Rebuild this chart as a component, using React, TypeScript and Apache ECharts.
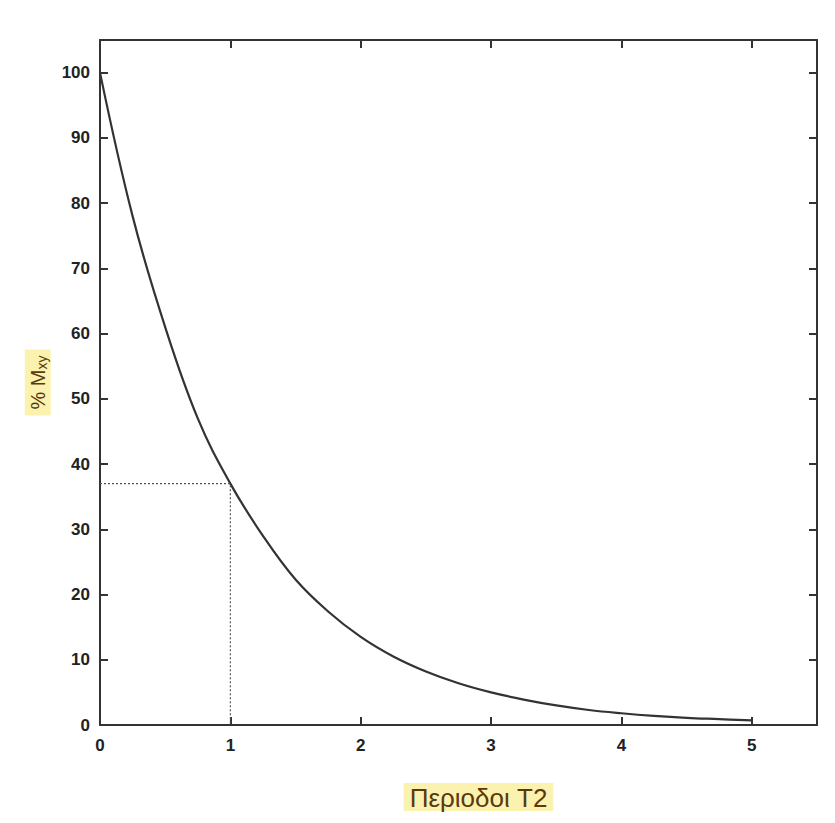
import React, { useEffect, useRef } from "react";
import * as echarts from "echarts";

const periods = [0, 0.25, 0.5, 0.75, 1, 1.25, 1.5, 1.75, 2, 2.25, 2.5, 2.75, 3, 3.25, 3.5, 3.75, 4, 4.25, 4.5, 4.75, 5];
const mxy = [100, 78, 61, 47, 37, 29, 22.3, 17.4, 13.5, 10.5, 8.2, 6.4, 5, 3.9, 3, 2.3, 1.8, 1.4, 1.1, 0.9, 0.7];
const guideX = [0, 1, 1];
const guideY = [37, 37, 0];
const xTicks = [0, 1, 2, 3, 4, 5];
const yTicks = [0, 10, 20, 30, 40, 50, 60, 70, 80, 90, 100];

const GRID = { left: 100, right: 18, top: 40, bottom: 98 };
const W = 835;
const H = 823;
const PW = W - GRID.left - GRID.right;
const PH = H - GRID.top - GRID.bottom;

export default function App() {
  const ref = useRef<HTMLDivElement>(null);
  useEffect(() => {
    document.body.style.margin = "0";
    const chart = echarts.init(ref.current!, null, { renderer: "svg" });
    const labelStyle = { color: "#222", fontSize: 17, fontWeight: "bold" as const, fontFamily: "Liberation Sans" };
    const lineStyle = { color: "#333", width: 2 };
    const tick = { show: true, length: 8, lineStyle: { color: "#333", width: 2 } };
    const xBase = { type: "value", min: 0, max: 5.5, interval: 1, splitLine: { show: false } };
    const yBase = { type: "value", min: 0, max: 105, interval: 10, splitLine: { show: false } };
    const border = { axisLine: { onZero: false, lineStyle }, axisTick: { show: false }, axisLabel: { show: false } };
    const tickOnly = { axisLine: { show: false, onZero: false }, axisTick: tick, axisLabel: { show: false } };
    chart.setOption({
      animation: false,
      backgroundColor: "#fff",
      grid: GRID,
      xAxis: [
        {
          ...xBase, position: "bottom",
          axisLine: { onZero: false, lineStyle },
          axisTick: { show: false },
          axisLabel: {
            ...labelStyle, margin: 12,
            formatter: (v: number) => (xTicks.includes(v) ? String(v) : ""),
          },
          name: "{t|Περιοδοι T2}",
          nameLocation: "middle",
          nameGap: 58,
          nameTextStyle: {
            padding: [0, 0, 0, 40],
            rich: {
              t: {
                color: "#5a3a0c", fontSize: 26, fontFamily: "Liberation Sans",
                backgroundColor: "#fbf2b0", padding: [2, 6, 0, 6],
              },
            },
          },
        },
        { ...xBase, position: "top", ...border },
        { ...xBase, position: "top", offset: -PH, ...tickOnly },
        { ...xBase, position: "bottom", offset: -PH, ...tickOnly },
      ],
      yAxis: [
        {
          ...yBase, position: "left",
          axisLine: { onZero: false, lineStyle },
          axisTick: { show: false },
          axisLabel: {
            ...labelStyle, margin: 10,
            formatter: (v: number) => (yTicks.includes(v) ? String(v) : ""),
          },
          name: "{a|% M}{b|xy}",
          nameLocation: "middle",
          nameGap: 37,
          nameRotate: 90,
          nameTextStyle: {
            backgroundColor: "#fbf2b0", padding: [2, 6, 2, 6],
            rich: {
              a: { color: "#5a3a0c", fontSize: 20, fontFamily: "Liberation Sans" },
              b: { color: "#5a3a0c", fontSize: 14, fontFamily: "Liberation Sans", verticalAlign: "bottom", padding: [8, 0, 0, 0] },
            },
          },
        },
        { ...yBase, position: "right", ...border },
        { ...yBase, position: "right", offset: -PW, ...tickOnly },
        { ...yBase, position: "left", offset: -PW, ...tickOnly },
      ],
      series: [
        {
          type: "line",
          xAxisIndex: 0,
          yAxisIndex: 0,
          data: periods.map((p, i) => [p, mxy[i]]),
          smooth: 0.4,
          showSymbol: false,
          lineStyle: { color: "#333", width: 2.2 },
        },
        {
          type: "line",
          xAxisIndex: 0,
          yAxisIndex: 0,
          data: guideX.map((p, i) => [p, guideY[i]]),
          showSymbol: false,
          lineStyle: { color: "#555", width: 1.2, type: [2, 2] },
        },
      ],
    });
    return () => chart.dispose();
  }, []);
  return <div ref={ref} style={{ width: W, height: H }} />;
}
